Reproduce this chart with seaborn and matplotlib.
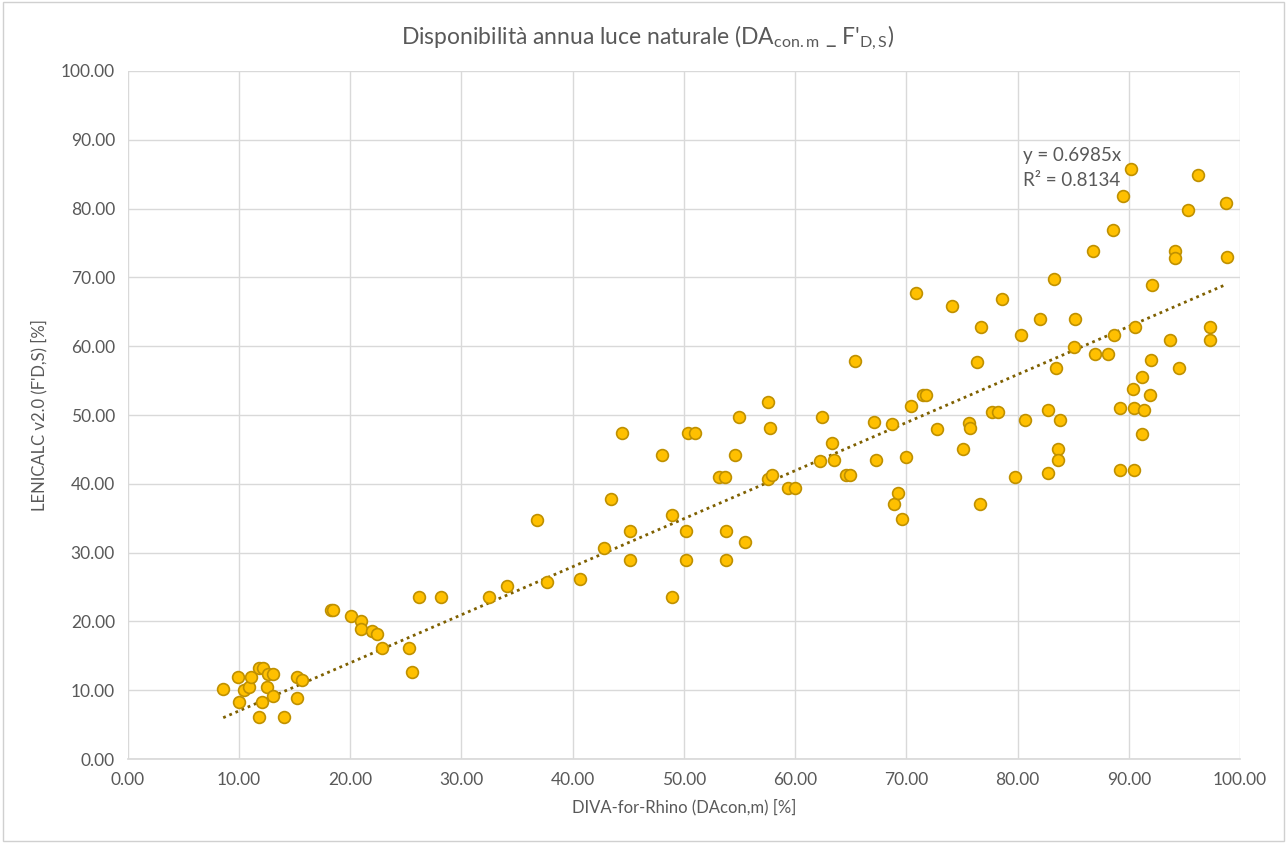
import numpy as np
import pandas as pd
import matplotlib
matplotlib.use("Agg")
import matplotlib.pyplot as plt
import seaborn as sns
from matplotlib.patches import Rectangle

# DIVA-for-Rhino DA_con,m [%]
diva = [
    8.6, 9.9, 10.0, 10.5, 10.9, 11.1, 11.8, 12.2, 11.8, 12.1, 12.5, 12.65, 13.1, 13.1,
    14.1, 15.2, 15.2, 15.7, 18.3, 18.5, 20.1, 21.0, 21.0, 22.0, 22.4, 22.9, 25.3, 25.6,
    26.2, 28.2, 32.45, 34.1, 36.8, 37.7, 40.7, 42.8, 43.5, 44.45, 45.2, 45.2, 48.0,
    48.9, 48.9, 50.2, 50.2, 50.4, 51.0, 53.2, 53.7, 53.75, 53.75, 54.6, 55.0, 55.5,
    57.55, 57.75, 57.6, 57.95, 59.4, 60.0, 62.2, 62.4, 63.3, 63.5, 64.55, 64.95, 65.4,
    67.1, 67.3, 68.7, 68.9, 69.25, 69.65, 70.0, 70.45, 70.85, 71.5, 71.75, 72.8, 74.1,
    75.1, 75.6, 75.7, 76.35, 76.6, 76.7, 77.7, 78.2, 78.6, 79.8, 80.3, 80.7, 82.0,
    82.7, 82.7, 83.3, 83.5, 83.6, 83.6, 83.8, 85.2, 85.1, 87.0, 88.15, 86.8, 88.6,
    88.7, 89.5, 90.2, 90.35, 91.2, 90.6, 89.2, 90.5, 91.4, 91.2, 91.9, 92.0, 92.1,
    89.2, 90.5, 93.75, 94.15, 94.15, 94.5, 95.35, 96.25, 97.3, 97.3, 98.75, 98.8,
]
# LENICALC v2.0 F'D,S [%]
lenicalc = [
    10.2, 11.9, 8.3, 10.1, 10.5, 11.9, 13.3, 13.3, 6.1, 8.3, 10.5, 12.35, 12.35, 9.2,
    6.15, 11.9, 8.8, 11.5, 21.7, 21.7, 20.8, 20.0, 18.9, 18.65, 18.2, 16.2, 16.2, 12.7,
    23.5, 23.5, 23.5, 25.2, 34.7, 25.7, 26.1, 30.7, 37.8, 47.4, 33.2, 29.0, 44.2,
    35.5, 23.6, 33.2, 29.0, 47.4, 47.4, 41.0, 41.0, 33.2, 29.0, 44.2, 49.7, 31.6,
    51.9, 48.1, 40.65, 41.3, 39.4, 39.4, 43.3, 49.75, 46.0, 43.5, 41.3, 41.3, 57.9,
    49.0, 43.4, 48.7, 37.1, 38.7, 34.9, 43.9, 51.3, 67.8, 52.9, 52.9, 47.9, 65.8,
    45.1, 48.8, 48.1, 57.65, 37.1, 62.8, 50.5, 50.5, 66.9, 41.0, 61.6, 49.3, 63.9,
    50.7, 41.5, 69.8, 56.8, 45.1, 43.5, 49.3, 63.9, 59.9, 58.9, 58.9, 73.8, 76.9,
    61.6, 81.8, 85.8, 53.8, 55.5, 62.8, 51.0, 51.0, 50.8, 47.3, 52.9, 57.95, 68.85,
    42.0, 42.0, 60.9, 73.9, 72.8, 56.8, 79.8, 84.9, 62.8, 60.9, 80.8, 72.9,
]

slope = 0.6985
r_squared = 0.8134
tick_values = np.arange(0, 101, 10)

df = pd.DataFrame({"diva": diva, "lenicalc": lenicalc})
trend_x = np.array([min(diva), max(diva)])
trend = pd.DataFrame({"x": trend_x, "y": slope * trend_x})

sns.set_theme(style="white")
plt.rcParams["font.family"] = ["Lato", "DejaVu Sans"]
plt.rcParams["mathtext.fontset"] = "custom"
plt.rcParams["mathtext.rm"] = "Lato"
plt.rcParams["mathtext.it"] = "Lato:italic"

text_color = "#595959"
grid_color = "#D9D9D9"

fig = plt.figure(figsize=(12.87, 8.43), dpi=100)
fig.patch.set_facecolor("white")
fig.patches.append(Rectangle((0.002, 0.002), 0.996, 0.996, transform=fig.transFigure,
                             fill=False, edgecolor="#D0D0D0", linewidth=1.0))
ax = fig.add_axes([0.0991, 0.0996, 0.8644, 0.8162])

sns.scatterplot(data=df, x="diva", y="lenicalc", ax=ax, s=72, color="#FFC000",
                edgecolor="#BF9000", linewidth=1.2, zorder=3, legend=False)
sns.lineplot(data=trend, x="x", y="y", ax=ax, color="#7F6000", linewidth=2.0,
             linestyle=(0, (1, 1.4)), zorder=2)

ax.set_xlim(0, 100)
ax.set_ylim(0, 100)
ax.set_xticks(tick_values)
ax.set_yticks(tick_values)
ax.set_xticklabels([f"{v:.2f}" for v in tick_values])
ax.set_yticklabels([f"{v:.2f}" for v in tick_values])
ax.tick_params(axis="both", length=0, labelsize=12.5, colors=text_color, pad=9)
ax.grid(True, color=grid_color, linewidth=1.0)
ax.set_axisbelow(True)
for side in ["top", "right", "left"]:
    ax.spines[side].set_visible(False)
ax.spines["bottom"].set_color(grid_color)

ax.set_xlabel("DIVA-for-Rhino (DAcon,m) [%]", fontsize=12, color=text_color, labelpad=8)
ax.set_ylabel("LENICALC v2.0 (F'D,S) [%]", fontsize=12, color=text_color, labelpad=10)
fig.text(0.503, 0.955,
         r"Disponibilità annua luce naturale (DA$_{\mathrm{con.m}}$ _ F'$_{\mathrm{D,S}}$)",
         fontsize=16.5, color=text_color, ha="center", va="center")

ax.text(80.5, 88.9, f"y = {slope:.4f}x\nR² = {r_squared:.4f}", fontsize=13.5,
        color=text_color, va="top", ha="left", linespacing=1.55)

fig.savefig("out.png", dpi=100, facecolor="white")
